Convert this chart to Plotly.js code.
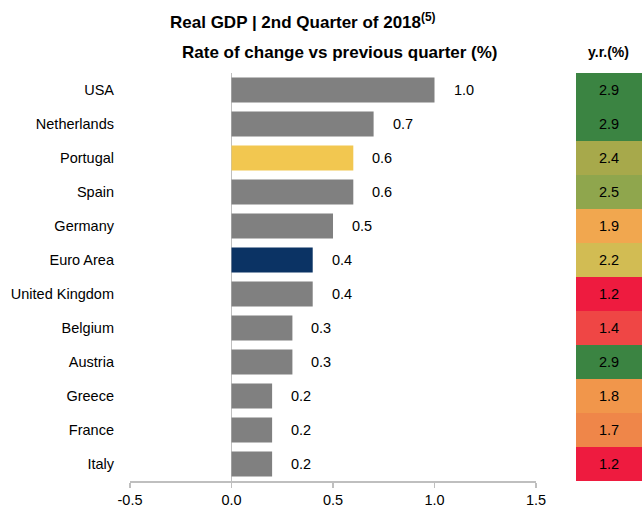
<!DOCTYPE html>
<html>
<head>
<meta charset="utf-8">
<script src="https://cdn.plot.ly/plotly-3.0.1.min.js"></script>
<style>html,body{margin:0;padding:0;background:#fff;}#chart{width:642px;height:513px;}</style>
</head>
<body>
<div id="chart"></div>
<script>
var countries = ["USA","Netherlands","Portugal","Spain","Germany","Euro Area","United Kingdom","Belgium","Austria","Greece","France","Italy"];
var qoq = [1.0,0.7,0.6,0.6,0.5,0.4,0.4,0.3,0.3,0.2,0.2,0.2];
var yoy = [2.9,2.9,2.4,2.5,1.9,2.2,1.2,1.4,2.9,1.8,1.7,1.2];
var barColors = ["#808080","#808080","#f2c750","#808080","#808080","#0b3364","#808080","#808080","#808080","#808080","#808080","#808080"];
var cellColors = ["#3b8442","#3b8442","#a7a94b","#8fa64d","#f1a74f","#d2bc53","#ee1b3f","#ef4645","#3b8442","#f1964b","#ef8649","#ee1b3f"];

var FONT = "Liberation Sans, Arial, sans-serif";

var traceBars = {
  type: "bar", orientation: "h",
  y: countries, x: qoq,
  marker: {color: barColors},
  xaxis: "x", yaxis: "y",
  hoverinfo: "x+y"
};
var traceCells = {
  type: "bar", orientation: "h",
  y: countries, x: yoy.map(function(){return 1;}),
  base: 0, width: 1,
  marker: {color: cellColors, line: {width: 0}},
  text: yoy.map(function(v){return v.toFixed(1);}),
  textposition: "inside", insidetextanchor: "middle", textangle: 0,
  textfont: {family: FONT, size: 14.5, color: "#000"},
  constraintext: "none",
  xaxis: "x2", yaxis: "y",
  hoverinfo: "text"
};

var annotations = qoq.map(function(v, i){
  return {x: v, y: countries[i], xref: "x", yref: "y", text: v.toFixed(1),
    showarrow: false, xanchor: "left", yanchor: "middle", xshift: 17,
    font: {family: FONT, size: 14.5, color: "#000"}};
});
annotations.push({xref: "paper", yref: "paper", x: 0.338, y: 1.127, text: "<b>Real GDP | 2nd Quarter of 2018<sup>(5)</sup></b>",
  showarrow: false, xanchor: "center", yanchor: "middle", font: {family: FONT, size: 17, color: "#000"}});
annotations.push({xref: "paper", yref: "paper", x: 0.41, y: 1.051, text: "<b>Rate of change vs previous quarter (%)</b>",
  showarrow: false, xanchor: "center", yanchor: "middle", font: {family: FONT, size: 17, color: "#000"}});
annotations.push({xref: "paper", yref: "paper", x: 0.9355, y: 1.051, text: "<b>y.r.(%)</b>",
  showarrow: false, xanchor: "center", yanchor: "middle", font: {family: FONT, size: 14, color: "#000"}});

var layout = {
  width: 642, height: 513,
  margin: {l: 130, r: 0, t: 73, b: 32},
  paper_bgcolor: "#fff", plot_bgcolor: "#fff",
  showlegend: false,
  bargap: 0.27,
  font: {family: FONT, size: 14.5, color: "#000"},
  xaxis: {domain: [0, 0.793], range: [-0.5, 1.5], tickvals: [-0.5, 0, 0.5, 1.0, 1.5],
    ticktext: ["-0.5","0.0","0.5","1.0","1.5"],
    showgrid: false, zeroline: true, zerolinecolor: "#bfbfbf", zerolinewidth: 1.5,
    showline: true, linecolor: "#bfbfbf", linewidth: 1.5,
    ticks: "outside", ticklen: 5, tickcolor: "#bfbfbf", tickwidth: 1.5,
    tickfont: {family: FONT, size: 14.5, color: "#000"}, fixedrange: true},
  xaxis2: {domain: [0.871, 1], range: [0, 1], showgrid: false, zeroline: false,
    showline: false, showticklabels: false, ticks: "", fixedrange: true},
  yaxis: {type: "category", autorange: "reversed", showgrid: false, zeroline: false,
    showline: false, ticks: "", ticklabelstandoff: 15,
    tickfont: {family: FONT, size: 14.5, color: "#000"}, fixedrange: true},
  annotations: annotations
};

Plotly.newPlot("chart", [traceBars, traceCells], layout, {displayModeBar: false, staticPlot: true});
</script>
</body>
</html>
